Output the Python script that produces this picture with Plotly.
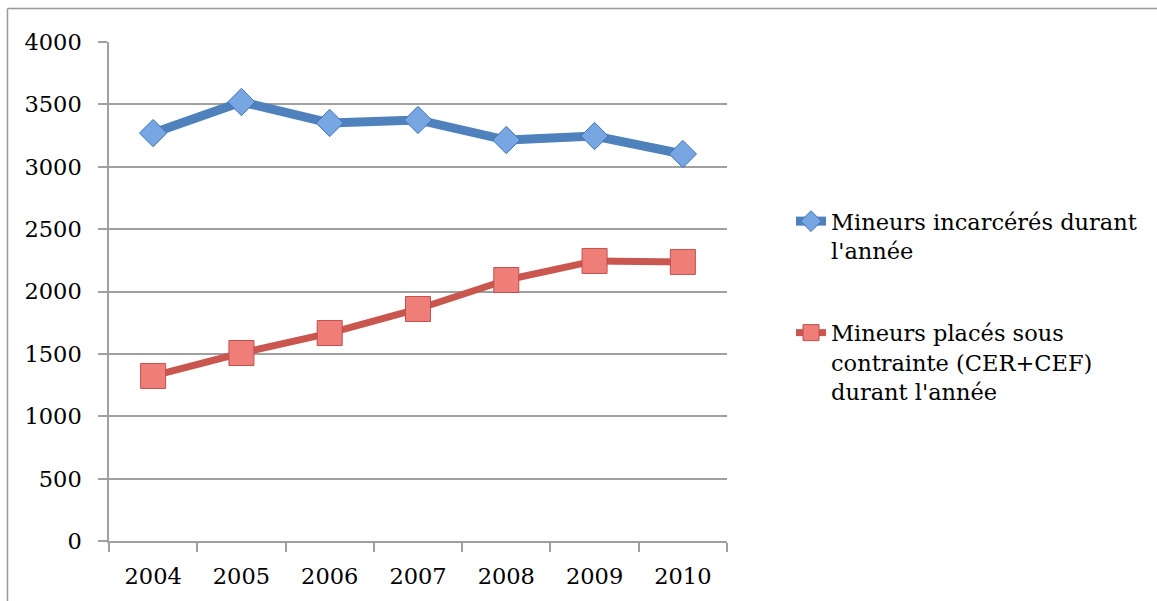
import plotly.graph_objects as go

years = ["2004", "2005", "2006", "2007", "2008", "2009", "2010"]
incarceres = [3270, 3519, 3351, 3375, 3214, 3246, 3102]
contrainte = [1323, 1507, 1667, 1860, 2092, 2245, 2237]
name_inc = "Mineurs incarcérés durant<br>l'année"
name_con = "Mineurs placés sous<br>contrainte (CER+CEF)<br>durant l'année"
y_ticks = [0, 500, 1000, 1500, 2000, 2500, 3000, 3500, 4000]

FONT = "DejaVu Serif"
W, H = 1157, 601
L, R, T, B = 109, 430, 42, 60
pw, ph = W - L - R, H - T - B

fig = go.Figure()
fig.add_trace(go.Scatter(
    x=years, y=incarceres, name=name_inc, mode="lines+markers", legendgroup="a",
    line=dict(color="#4F81BD", width=9),
    marker=dict(symbol="diamond", size=21, color="#78A6E2",
                line=dict(color="#3F73B3", width=1)),
))
fig.add_trace(go.Scatter(
    x=years, y=contrainte, name=name_con, mode="lines+markers", legendgroup="b",
    line=dict(color="#C9564F", width=7),
    marker=dict(symbol="square", size=25, color="#EF7D78",
                line=dict(color="#C0504D", width=1)),
))

def px2x(px):
    return (px - L) / pw

def px2y(py):
    return 1 - (py - T) / ph

fig.update_layout(
    width=W, height=H,
    margin=dict(l=L, r=R, t=T, b=B),
    paper_bgcolor="white", plot_bgcolor="white",
    font=dict(family=FONT, size=22.5, color="black"),
    showlegend=True,
    legend=dict(x=px2x(791), y=px2y(200), xanchor="left", yanchor="top",
                valign="top", tracegroupgap=50, font=dict(size=22.5, family=FONT),
                bgcolor="rgba(0,0,0,0)"),
    xaxis=dict(type="category", showgrid=False, showline=True, linecolor="#A0A0A0",
               linewidth=1.5, ticks="outside", tickson="boundaries", ticklen=9,
               tickcolor="#A0A0A0", tickwidth=1.5, ticklabelstandoff=14,
               range=[-0.5, 6.5], fixedrange=True),
    yaxis=dict(range=[0, 4000], tickvals=y_ticks, showgrid=True, gridcolor="#A0A0A0",
               gridwidth=1.5, showline=True, linecolor="#A0A0A0", linewidth=1.5,
               ticks="outside", ticklen=9, tickcolor="#A0A0A0", tickwidth=1.5,
               ticklabelstandoff=12, zeroline=False),
    shapes=[
        dict(type="line", xref="paper", yref="paper", x0=px2x(7.5), x1=px2x(1200),
             y0=px2y(8.5), y1=px2y(8.5), line=dict(color="#999999", width=1.5)),
        dict(type="line", xref="paper", yref="paper", x0=px2x(7.5), x1=px2x(7.5),
             y0=px2y(8.5), y1=px2y(650), line=dict(color="#999999", width=1.5)),
    ],
)

fig.write_html("out.html")
